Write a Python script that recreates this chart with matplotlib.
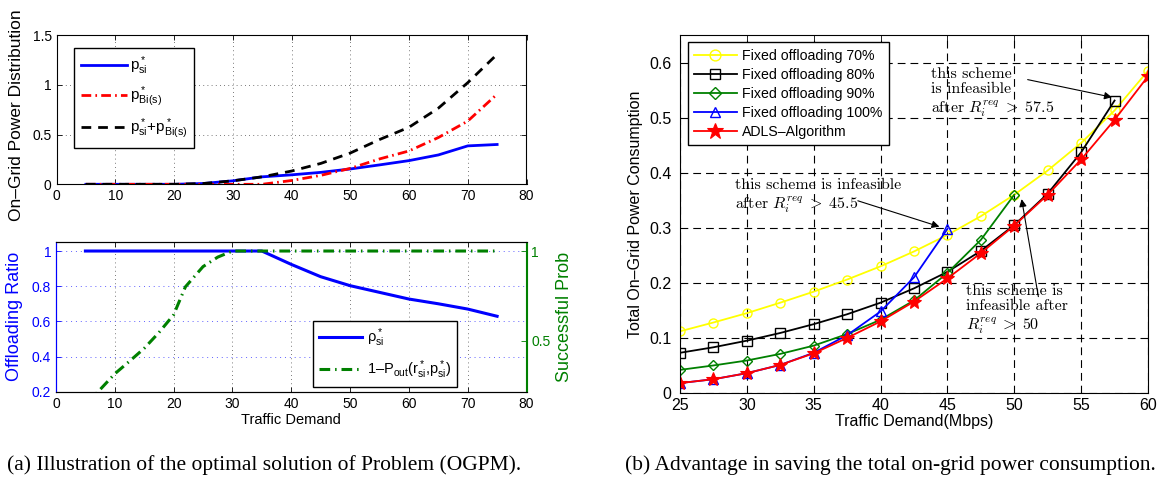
import matplotlib
matplotlib.use("Agg")
import matplotlib.pyplot as plt

plt.rcParams.update({
    "font.family": ["Liberation Sans", "DejaVu Sans"],
    "mathtext.fontset": "custom",
    "mathtext.rm": "Liberation Sans",
    "mathtext.it": "Liberation Sans:italic",
    "mathtext.bf": "Liberation Sans:bold",
    "mathtext.sf": "Liberation Sans",
    "axes.linewidth": 0.8,
    "xtick.direction": "in",
    "ytick.direction": "in",
    "xtick.major.size": 3.5,
    "ytick.major.size": 3.5,
    "xtick.major.width": 0.6,
    "ytick.major.width": 0.6,
    "legend.fancybox": False,
    "legend.framealpha": 1.0,
    "legend.edgecolor": "k",
})

# ---- (a) upper: optimal on-grid power split versus traffic demand ----
demand = [5, 10, 15, 20, 25, 30, 35, 40, 45, 50, 55, 60, 65, 70, 75]
p_si = [0, 0, 0, 0, 0.008, 0.035, 0.075, 0.095, 0.12, 0.154, 0.195, 0.238, 0.295, 0.386, 0.40]
p_bi = [0, 0, 0, 0, 0, 0, 0, 0.038, 0.09, 0.16, 0.255, 0.335, 0.47, 0.635, 0.906]
p_total = [0, 0, 0, 0, 0.008, 0.035, 0.075, 0.133, 0.21, 0.314, 0.45, 0.573, 0.765, 1.021, 1.306]
power_ticks = [0, 0.5, 1, 1.5]
power_ticklabels = ["0", "0.5", "1", "1.5"]

# ---- (a) lower: offloading ratio and success probability ----
rho_si = [1, 1, 1, 1, 1, 1, 1, 0.924, 0.854, 0.803, 0.765, 0.727, 0.70, 0.67, 0.629]
succ_demand = [5, 7.5, 10, 12.5, 15, 17.5, 20, 22, 25, 27.5, 30,
               35, 40, 45, 50, 55, 60, 65, 70, 75]
succ_prob = [0.14, 0.227, 0.315, 0.385, 0.457, 0.545, 0.644, 0.80, 0.913, 0.966, 1.0,
             1.0, 1.0, 1.0, 1.0, 1.0, 1.0, 1.0, 1.0, 1.0]
ratio_ticks = [0.2, 0.4, 0.6, 0.8, 1.0]
ratio_ticklabels = ["0.2", "0.4", "0.6", "0.8", "1"]
prob_ticks = [0.5, 1.0]
prob_ticklabels = ["0.5", "1"]
demand_ticks = [0, 10, 20, 30, 40, 50, 60, 70, 80]

# ---- (b): total on-grid power consumption of each scheme ----
rate = [25, 27.5, 30, 32.5, 35, 37.5, 40, 42.5, 45, 47.5, 50, 52.5, 55, 57.5, 60]
fixed70 = [0.112, 0.128, 0.145, 0.164, 0.184, 0.206, 0.230, 0.257, 0.287, 0.321,
           0.360, 0.404, 0.454, 0.513, 0.585]
fixed80 = [0.073, 0.083, 0.095, 0.109, 0.125, 0.143, 0.164, 0.190, 0.220, 0.258,
           0.305, 0.362, 0.437, 0.531]
fixed90 = [0.042, 0.050, 0.059, 0.071, 0.086, 0.107, 0.133, 0.168, 0.218, 0.278, 0.360]
fixed100 = [0.018, 0.025, 0.036, 0.051, 0.073, 0.105, 0.148, 0.210, 0.298]
adls = [0.018, 0.025, 0.036, 0.051, 0.072, 0.100, 0.130, 0.166, 0.208, 0.254,
        0.304, 0.360, 0.424, 0.496, 0.575]
rate_ticks = [25, 30, 35, 40, 45, 50, 55, 60]
cons_ticks = [0, 0.1, 0.2, 0.3, 0.4, 0.5, 0.6]
cons_ticklabels = ["0", "0.1", "0.2", "0.3", "0.4", "0.5", "0.6"]

W, H = 1169, 479
fig = plt.figure(figsize=(W / 100, H / 100), dpi=100)


def px_axes(left, top, right, bottom):
    return fig.add_axes([left / W, 1 - bottom / H, (right - left) / W, (bottom - top) / H])


dot_grid = (0, (1, 4))

# ---------------- upper left ----------------
ax1 = px_axes(56.5, 35, 526.5, 184.3)
ax1.plot(demand, p_si, color="#0000ff", lw=2.0, label=r"$\mathregular{p^*_{si}}$")
ax1.plot(demand, p_bi, color="#ff0000", lw=2.0, dashes=(3.5, 1.5, 0.6, 1.5),
         label=r"$\mathregular{p^*_{Bi(s)}}$")
ax1.plot(demand, p_total, color="k", lw=2.0, dashes=(3.5, 2.5),
         label=r"$\mathregular{p^*_{si}}$+$\mathregular{p^*_{Bi(s)}}$")
ax1.set_xlim(0, 80)
ax1.set_ylim(0, 1.5)
ax1.set_xticks(demand_ticks)
ax1.set_yticks(power_ticks, power_ticklabels)
ax1.tick_params(labelsize=10, top=True, right=True)
ax1.grid(True, color="0.3", lw=0.6, linestyle=dot_grid)
ax1.set_ylabel("On\u2013Grid Power Distribution", fontsize=12.5)
ax1.yaxis.set_label_coords(-0.07, 0.46)
ax1.legend(loc="upper left", bbox_to_anchor=(0.037, 0.915), fontsize=11,
           handlelength=3.0, labelspacing=0.5, borderpad=0.45, handletextpad=0.2,
           borderaxespad=0)

# ---------------- lower left ----------------
ax2 = px_axes(56, 241.7, 526.5, 391.7)
ax3 = ax2.twinx()
h1, = ax2.plot(demand, rho_si, color="#0000ff", lw=2.2,
               label=r"$\mathregular{\rho^*_{si}}$")
h2, = ax3.plot(succ_demand, succ_prob, color="#008000", lw=2.2,
               dashes=(3.5, 1.6, 0.5, 1.6),
               label="1\u2013$\\mathregular{P_{out}(r^*_{si}}$,$\\mathregular{p^*_{si})}$")
ax2.set_xlim(0, 80)
ax2.set_ylim(0.2, 1.053)
ax3.set_ylim(0.215, 1.052)
ax2.set_xticks(demand_ticks)
ax2.set_yticks(ratio_ticks, ratio_ticklabels)
ax3.set_yticks(prob_ticks, prob_ticklabels)
ax2.tick_params(axis="x", labelsize=10, top=True)
ax2.tick_params(axis="y", labelsize=10, colors="#0000ff")
ax3.tick_params(axis="y", labelsize=10, colors="#008000")
ax2.spines["left"].set_color("#0000ff")
ax3.spines["left"].set_color("#0000ff")
ax3.spines["right"].set_color("#008000")
ax2.spines["right"].set_color("#008000")
ax2.grid(True, axis="x", color="0.3", lw=0.6, linestyle=dot_grid)
ax2.grid(True, axis="y", color="#6060ff", lw=0.7, linestyle=dot_grid)
ax2.set_xlabel("Traffic Demand", fontsize=10.5, labelpad=2)
ax2.set_ylabel("Offloading Ratio", fontsize=13, color="#0000ff")
ax2.yaxis.set_label_coords(-0.07, 0.5)
ax3.set_ylabel("Successful Prob", fontsize=13, color="#008000")
ax3.yaxis.set_label_coords(1.062, 0.5)
ax3.legend(handles=[h1, h2], loc="upper left", bbox_to_anchor=(0.5456, 0.471),
           fontsize=10.5, handlelength=3.0, labelspacing=0.6, borderpad=0.4,
           handletextpad=0.3, borderaxespad=0)

# ---------------- right ----------------
ax4 = px_axes(680, 35, 1148, 393)
mk = dict(lw=1.3, markersize=6.5, markeredgewidth=1.0)
ax4.plot(rate[:len(fixed70)], fixed70, color="#ffff00", marker="o", mfc="none",
         label="Fixed offloading 70%", **mk)
ax4.plot(rate[:len(fixed80)], fixed80, color="k", marker="s", mfc="none",
         label="Fixed offloading 80%", **mk)
ax4.plot(rate[:len(fixed90)], fixed90, color="#008000", marker="D", mfc="none",
         label="Fixed offloading 90%", lw=1.3, markersize=5.5, markeredgewidth=1.0)
ax4.plot(rate[:len(fixed100)], fixed100, color="#0000ff", marker="^", mfc="none",
         label="Fixed offloading 100%", **mk)
ax4.plot(rate[:len(adls)], adls, color="#ff0000", marker="*", mfc="#ff0000",
         label="ADLS\u2013Algorithm", lw=1.3, markersize=10, markeredgewidth=0.8)
ax4.set_xlim(25, 60)
ax4.set_ylim(0, 0.65)
ax4.set_xticks(rate_ticks)
ax4.set_yticks(cons_ticks, cons_ticklabels)
ax4.tick_params(labelsize=11.5, top=True, right=True, length=4.5)
ax4.tick_params(axis="y", pad=6)
ax4.grid(True, color="k", lw=0.8, linestyle=(0, (7, 4.5)))
ax4.set_xlabel("Traffic Demand(Mbps)", fontsize=11.5, labelpad=1)
ax4.set_ylabel("Total On\u2013Grid Power Consumption", fontsize=11.5)
ax4.yaxis.set_label_coords(-0.078, 0.5)
ax4.legend(loc="upper left", bbox_to_anchor=(0.0165, 0.98), fontsize=10.2,
           handlelength=3.0, labelspacing=0.36, borderpad=0.45, handletextpad=0.4,
           borderaxespad=0, markerscale=1.2)

note = dict(family="cmr10", math_fontfamily="cm", fontsize=11.5, va="top",
            ha="left", linespacing=1.15, zorder=0.4)
arrow = dict(arrowstyle="-|>", color="k", lw=0.8, mutation_scale=11,
             shrinkA=0, shrinkB=0)
ax4.text(43.8, 0.592, "this scheme\nis infeasible\nafter $R_i^{req}\\;>\\;57.5$", **note)
ax4.annotate("", xy=(57.3, 0.537), xytext=(51.0, 0.569), arrowprops=arrow)
ax4.text(29.1, 0.39, "this scheme is infeasible\nafter $R_i^{req}\\;>\\;45.5$", **note)
ax4.annotate("", xy=(44.4, 0.302), xytext=(38.3, 0.349), arrowprops=arrow)
ax4.text(46.4, 0.198, "this scheme is\ninfeasible after\n$R_i^{req}\\;>\\;50$", **note)
ax4.annotate("", xy=(50.55, 0.352), xytext=(51.8, 0.175), arrowprops=arrow)

# ---------------- sub-captions ----------------
cap = dict(family=["Liberation Serif", "DejaVu Serif"], fontsize=15.5, va="center")
fig.text(7 / W, 1 - 465 / H, "(a) Illustration of the optimal solution of Problem (OGPM).", **cap)
fig.text(625 / W, 1 - 465 / H, "(b) Advantage in saving the total on-grid power consumption.", **cap)

fig.savefig("out.png", dpi=100)
